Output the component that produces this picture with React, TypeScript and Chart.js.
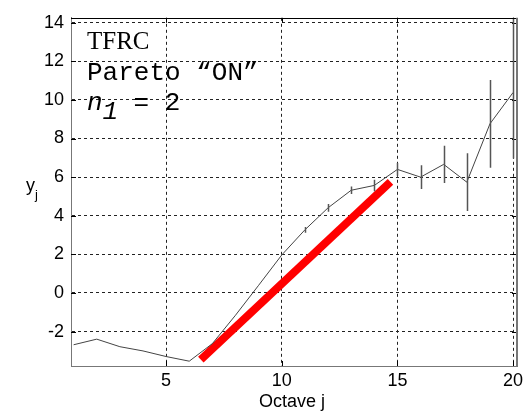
import React, { useEffect, useRef } from "react";
import { Chart, registerables } from "chart.js";

Chart.register(...registerables);

const octaves = [1, 2, 3, 4, 5, 6, 7, 8, 9, 10, 11, 12, 13, 14, 15, 16, 17, 18, 19, 20];
const yValues = [-2.68, -2.39, -2.78, -3.0, -3.29, -3.53, -2.62, -1.15, 0.4, 1.97, 3.27, 4.41, 5.32, 5.57, 6.4, 6.0, 6.66, 5.74, 8.76, 10.38];
const errMinus = [0, 0, 0, 0, 0, 0, 0, 0, 0, 0, 0.15, 0.2, 0.2, 0.3, 0.33, 0.62, 0.97, 1.5, 2.27, 3.42];
const errPlus = [0, 0, 0, 0, 0, 0, 0, 0, 0, 0, 0.15, 0.2, 0.2, 0.3, 0.33, 0.62, 0.97, 1.5, 2.27, 3.9];
const fitX = [6.5, 14.7];
const fitY = [-3.45, 5.75];
const xTicks = [5, 10, 15, 20];
const yTicks = [-2, 0, 2, 4, 6, 8, 10, 12, 14];
const xLabel = "Octave j";
const yLabelMain = "y";
const yLabelSub = "j";
const noteTitle = "TFRC";
const noteLine2 = "Pareto \u201CON\u201D";

const decorPlugin = {
  id: "decor",
  beforeDatasetsDraw(chart: any) {
    const { ctx, chartArea } = chart;
    const xs = chart.scales.x;
    const ys = chart.scales.y;
    ctx.save();
    ctx.strokeStyle = "#000";
    ctx.lineWidth = 1;
    // inward ticks
    xTicks.forEach((v) => {
      const px = Math.round(xs.getPixelForValue(v)) + 0.5;
      ctx.beginPath();
      ctx.moveTo(px, chartArea.bottom);
      ctx.lineTo(px, chartArea.bottom - 5);
      ctx.moveTo(px, chartArea.top);
      ctx.lineTo(px, chartArea.top + 5);
      ctx.stroke();
    });
    yTicks.forEach((v) => {
      const py = Math.round(ys.getPixelForValue(v)) + 0.5;
      ctx.beginPath();
      ctx.moveTo(chartArea.left, py);
      ctx.lineTo(chartArea.left + 5, py);
      ctx.moveTo(chartArea.right, py);
      ctx.lineTo(chartArea.right - 5, py);
      ctx.stroke();
    });
    ctx.restore();
  },
  afterDatasetsDraw(chart: any) {
    const { ctx, chartArea } = chart;
    const xs = chart.scales.x;
    const ys = chart.scales.y;
    ctx.save();
    ctx.beginPath();
    ctx.rect(chartArea.left, chartArea.top, chartArea.right - chartArea.left, chartArea.bottom - chartArea.top);
    ctx.clip();
    ctx.strokeStyle = "#555";
    ctx.lineWidth = 1.5;
    octaves.forEach((j, i) => {
      if (errMinus[i] <= 0 && errPlus[i] <= 0) return;
      const px = Math.round(xs.getPixelForValue(j)) + 0.5;
      ctx.beginPath();
      ctx.moveTo(px, ys.getPixelForValue(yValues[i] - errMinus[i]));
      ctx.lineTo(px, ys.getPixelForValue(yValues[i] + errPlus[i]));
      ctx.stroke();
    });
    ctx.restore();

    ctx.save();
    // box top and right
    ctx.strokeStyle = "#000";
    ctx.lineWidth = 1;
    ctx.beginPath();
    ctx.moveTo(chartArea.left, Math.round(chartArea.top) + 0.5);
    ctx.lineTo(chartArea.right, Math.round(chartArea.top) + 0.5);
    ctx.stroke();
    ctx.strokeStyle = "#777";
    ctx.lineWidth = 2;
    ctx.beginPath();
    ctx.moveTo(Math.round(chartArea.right), chartArea.top);
    ctx.lineTo(Math.round(chartArea.right), chartArea.bottom);
    ctx.stroke();

    // annotations
    ctx.fillStyle = "#000";
    ctx.textBaseline = "alphabetic";
    ctx.textAlign = "left";
    ctx.font = "25px 'Liberation Serif', 'Times New Roman', serif";
    ctx.fillText(noteTitle, 87, 49);
    ctx.font = "26px 'Liberation Mono', 'Courier New', monospace";
    ctx.fillText(noteLine2, 87, 80);
    ctx.font = "italic 26px 'Liberation Mono', 'Courier New', monospace";
    ctx.fillText("n", 87, 110);
    ctx.fillText("1", 102.6, 119);
    ctx.font = "26px 'Liberation Mono', 'Courier New', monospace";
    ctx.fillText("= 2", 133.5, 110);

    // axis titles
    ctx.font = "18px 'Liberation Sans', Arial, sans-serif";
    ctx.textAlign = "center";
    ctx.fillText(xLabel, 292, 407);
    ctx.textAlign = "left";
    ctx.fillText(yLabelMain, 26, 191);
    ctx.font = "13px 'Liberation Sans', Arial, sans-serif";
    ctx.fillText(yLabelSub, 35, 199);
    ctx.restore();
  },
};

export default function App() {
  const ref = useRef<HTMLCanvasElement | null>(null);
  useEffect(() => {
    if (!ref.current) return;
    const tickFont = { family: "'Liberation Sans', Arial, sans-serif", size: 18 };
    const chart = new Chart(ref.current, {
      type: "line",
      data: {
        datasets: [
          {
            data: octaves.map((j, i) => ({ x: j, y: yValues[i] })),
            borderColor: "#444",
            borderWidth: 1,
            pointRadius: 0,
            fill: false,
            tension: 0,
          },
          {
            data: fitX.map((x, i) => ({ x, y: fitY[i] })),
            borderColor: "#ff0000",
            borderWidth: 8,
            borderCapStyle: "butt",
            pointRadius: 0,
            fill: false,
          },
        ],
      },
      options: {
        responsive: false,
        animation: false,
        layout: { padding: { top: 13, right: 12, left: 0, bottom: 0 } },
        plugins: { legend: { display: false }, tooltip: { enabled: false } },
        scales: {
          x: {
            type: "linear",
            min: 0.887,
            max: 20.17,
            afterBuildTicks: (s: any) => {
              s.ticks = xTicks.map((v) => ({ value: v }));
            },
            afterFit: (s: any) => {
              s.height = 46;
            },
            ticks: { font: tickFont, color: "#000", padding: 4, maxRotation: 0, autoSkip: false },
            grid: { color: "#222", lineWidth: 1, drawTicks: false },
            border: { display: true, color: "#777", width: 1, dash: [3, 3] },
          },
          y: {
            type: "linear",
            min: -3.78,
            max: 14.25,
            afterBuildTicks: (s: any) => {
              s.ticks = yTicks.map((v) => ({ value: v }));
            },
            afterFit: (s: any) => {
              s.width = 71;
            },
            ticks: { font: tickFont, color: "#000", padding: 7, autoSkip: false },
            grid: { color: "#222", lineWidth: 1, drawTicks: false },
            border: { display: true, color: "#777", width: 1, dash: [3, 3] },
          },
        },
      },
      plugins: [decorPlugin],
    } as any);
    return () => chart.destroy();
  }, []);
  return (
    <div style={{ position: "fixed", left: 0, top: 0, width: 529, height: 412, background: "#fff" }}>
      <canvas ref={ref} width={529} height={412} />
    </div>
  );
}
